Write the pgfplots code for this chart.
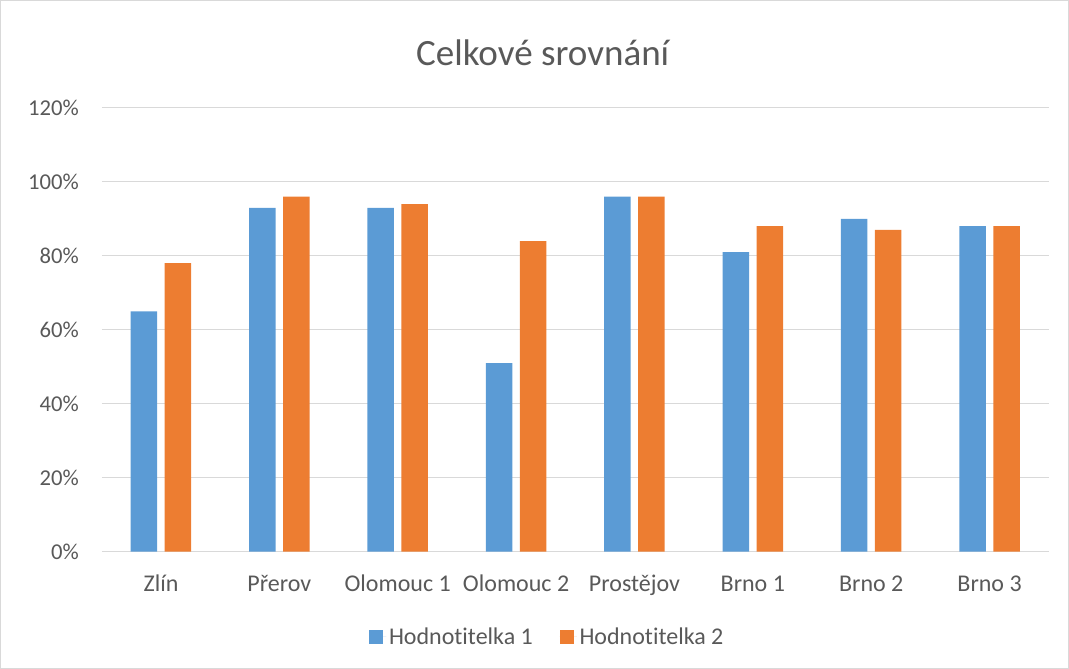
\documentclass[border=0pt]{standalone}
\usepackage{pgfplots}
\pgfplotsset{compat=1.18}
\usepackage{fontspec}
\setmainfont[Ligatures=NoCommon]{Carlito}
\definecolor{cblue}{HTML}{5B9BD5}
\definecolor{corange}{HTML}{ED7D31}
\definecolor{cgrid}{HTML}{D9D9D9}
\definecolor{ctext}{HTML}{595959}
\begin{document}
\begin{tikzpicture}
\draw[cgrid, line width=0.75pt, use as bounding box] (0.4pt,0.4pt) rectangle (801.35pt,501.35pt);
\begin{axis}[
  at={(76.35pt,88pt)}, anchor=south west,
  scale only axis, width=710.2pt, height=332.8pt,
  ybar=5.6pt, bar width=19.9pt,
  xmin=-0.5, xmax=7.5, ymin=0, ymax=120,
  xtick=data,
  xticklabels={Zlín, Přerov, Olomouc 1, Olomouc 2, Prostějov, Brno 1, Brno 2, Brno 3},
  ytick={0,20,...,120},
  yticklabel={\pgfmathprintnumber{\tick}\%},
  /pgf/number format/assume math mode=true,
  major tick length=0pt,
  axis line style={draw=none},
  ymajorgrids, grid style={cgrid, line width=0.75pt},
  tick label style={text=ctext},
  yticklabel style={font=\fontsize{17}{20}\selectfont, inner sep=0pt, anchor=east, xshift=-17pt},
  xticklabel style={font=\fontsize{18}{21}\selectfont, inner sep=0pt, anchor=base, yshift=-30pt},
  legend style={at={(0.4707,-0.1922)}, anchor=center, draw=none, fill=none,
    font=\fontsize{18}{21}\selectfont, text=ctext, legend columns=2,
    /tikz/every even column/.append style={column sep=18pt}},
  legend image code/.code={\fill[#1] (0pt,-5.25pt) rectangle (10.5pt,5.25pt); \path (0pt,0pt) -- (13pt,0pt);},
  legend cell align=left,
]
\addplot[fill=cblue, draw=none] coordinates {(0,65) (1,93) (2,93) (3,51) (4,96) (5,81) (6,90) (7,88)};
\addplot[fill=corange, draw=none] coordinates {(0,78) (1,96) (2,94) (3,84) (4,96) (5,88) (6,87) (7,88)};
\legend{Hodnotitelka 1, Hodnotitelka 2}
\end{axis}
\node[text=ctext, font=\fontsize{27.8}{32}\selectfont, anchor=base] at (407pt,452.25pt) {Celkové srovnání};
\end{tikzpicture}
\end{document}
